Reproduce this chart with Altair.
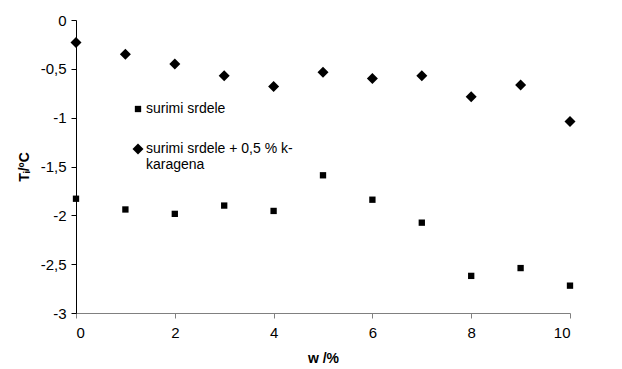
import altair as alt
import pandas as pd

w = [0, 1, 2, 3, 4, 5, 6, 7, 8, 9, 10]
surimi = [-1.83, -1.94, -1.985, -1.90, -1.955, -1.59, -1.84, -2.075, -2.62, -2.54, -2.72]
surimi_k = [-0.23, -0.35, -0.45, -0.57, -0.68, -0.535, -0.60, -0.57, -0.785, -0.665, -1.04]
series_names = ["surimi srdele", "surimi srdele + 0,5 % k-karagena"]

rows = []
for xi, a, b in zip(w, surimi, surimi_k):
    rows.append({"w": xi, "T": a, "serie": series_names[0]})
    rows.append({"w": xi, "T": b, "serie": series_names[1]})
df = pd.DataFrame(rows)

font = "Liberation Sans"

legend = alt.Legend(title=None, orient="none", legendX=55, legendY=82,
                    labelFont=font, labelFontSize=14, labelColor="black", labelOffset=1,
                    rowPadding=24, symbolFillColor="black", symbolStrokeColor="black",
                    labelExpr="datum.label == 'surimi srdele' ? datum.label : ['surimi srdele + 0,5 % k-', 'karagena']")

chart = alt.Chart(df).mark_point(filled=True, opacity=1, color="black").encode(
    x=alt.X("w:Q", scale=alt.Scale(domain=[0, 10], nice=False),
            axis=alt.Axis(values=[0, 2, 4, 6, 8, 10], title="w /%", grid=False,
                          domainColor="#808080", tickColor="#808080", tickSize=5,
                          labelFontSize=15, labelPadding=7, titleFontSize=14,
                          titleFontWeight="bold", titlePadding=11, labelColor="black",
                          labelFont=font, titleFont=font)),
    y=alt.Y("T:Q", scale=alt.Scale(domain=[-3, 0], nice=False),
            axis=alt.Axis(values=[0, -0.5, -1, -1.5, -2, -2.5, -3], title="Tᵢ/ºC", grid=False,
                          labelExpr="replace(toString(datum.value), '.', ',')",
                          domainColor="black", tickColor="black", tickSize=5,
                          labelFontSize=15, labelPadding=5, titleFontSize=14,
                          titleFontWeight="bold", titlePadding=9, labelColor="black",
                          labelFont=font, titleFont=font)),
    shape=alt.Shape("serie:N", scale=alt.Scale(domain=series_names, range=["square", "diamond"]),
                    legend=legend),
    size=alt.Size("serie:N", scale=alt.Scale(domain=series_names, range=[40, 121]), legend=legend),
).properties(
    width=494, height=293,
    autosize=alt.AutoSizeParams(type="none"),
    padding={"left": 68, "top": 12, "right": 44, "bottom": 54},
).configure_view(stroke=None)

chart.save("out.html", embed_options={"renderer": "svg", "actions": False})
